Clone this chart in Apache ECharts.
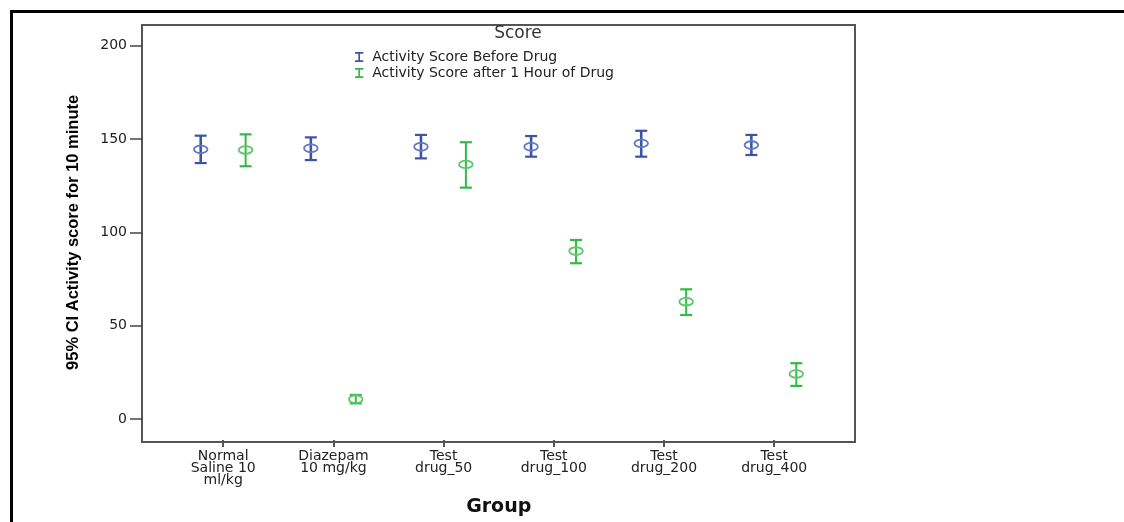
<!DOCTYPE html>
<html>
<head>
<meta charset="utf-8">
<script src="https://cdn.jsdelivr.net/npm/echarts@6/dist/echarts.min.js"></script>
<style>
html,body{margin:0;padding:0;background:#fff;}
#chart{width:1124px;height:522px;}
</style>
</head>
<body>
<div id="chart"></div>
<script>
// ---- data ----
const categories = ['Normal\nSaline 10\nml/kg', 'Diazepam\n10 mg/kg', 'Test\ndrug_50', 'Test\ndrug_100', 'Test\ndrug_200', 'Test\ndrug_400'];
const seriesNames = ['Activity Score Before Drug', 'Activity Score after 1 Hour of Drug'];
const beforeMean = [144.8, 145.4, 146.2, 146.2, 148.0, 147.1];
const beforeLow  = [137.5, 139.1, 140.0, 140.9, 140.9, 141.8];
const beforeHigh = [152.1, 151.2, 152.5, 151.9, 154.7, 152.5];
const afterMean  = [144.5, 11.6, 136.8, 90.6, 63.6, 25.1];
const afterLow   = [135.8, 9.4, 124.4, 84.1, 56.5, 18.7];
const afterHigh  = [152.8, 13.9, 148.6, 96.5, 70.2, 30.8];
const yTicks = { min: 0, max: 200, interval: 50 };

// ---- chart ----
const FONT = 'DejaVu Sans';
const chart = echarts.init(document.getElementById('chart'), null, { renderer: 'canvas' });

const PAIR_OFFSET = 0.204;

function buildData(low, high, mean, off) {
  return categories.map((c, i) => [i + off, low[i], high[i], mean[i]]);
}

function makeRender(color, ringColor, stemW, capW) {
  return function (params, api) {
    const x = api.value(0);
    const pL = api.coord([x, api.value(1)]);
    const pH = api.coord([x, api.value(2)]);
    const pM = api.coord([x, api.value(3)]);
    const cap = 6;
    return {
      type: 'group',
      children: [
        { type: 'line', shape: { x1: pL[0], y1: pL[1], x2: pH[0], y2: pH[1] }, style: { stroke: color, lineWidth: stemW } },
        { type: 'line', shape: { x1: pH[0] - cap, y1: pH[1], x2: pH[0] + cap, y2: pH[1] }, style: { stroke: color, lineWidth: capW } },
        { type: 'line', shape: { x1: pL[0] - cap, y1: pL[1], x2: pL[0] + cap, y2: pL[1] }, style: { stroke: color, lineWidth: capW } },
        { type: 'ellipse', shape: { cx: pM[0], cy: pM[1], rx: 6.8, ry: 3.8 }, style: { fill: 'none', stroke: ringColor, lineWidth: 1.8 } }
      ]
    };
  };
}

const BLUE = '#3B54AA';
const BLUE_RING = '#6478C4';
const GREEN = '#35B946';
const GREEN_RING = '#5CC66B';
const ICON = 'path://M0,0H10V2H6V10H10V12H0V10H4V2H0Z';

const option = {
  backgroundColor: '#ffffff',
  animation: false,
  graphic: [
    { type: 'polyline', shape: { points: [[11.5, 522], [11.5, 11.5], [1124, 11.5]] }, style: { stroke: '#000', lineWidth: 3, fill: null }, z: 10 },
    { type: 'text', x: 518, y: 34, style: { text: 'Score', font: '17px "DejaVu Sans"', fill: '#333', align: 'center', verticalAlign: 'middle' }, z: 10 }
  ],
  legend: {
    orient: 'vertical',
    left: 350,
    top: 45,
    itemWidth: 16,
    itemHeight: 10,
    itemGap: 2,
    data: [
      { name: seriesNames[0], icon: ICON },
      { name: seriesNames[1], icon: ICON }
    ],
    textStyle: { fontFamily: FONT, fontSize: 14, color: '#222' }
  },
  grid: [
    { left: 142, right: 269, top: 25, bottom: 80, show: true, borderColor: '#555', borderWidth: 2, backgroundColor: 'transparent' },
    { left: 168.1, right: 294.7, top: 45.8, bottom: 101, show: false }
  ],
  xAxis: [
    { gridIndex: 0, type: 'value', min: -0.737, max: 5.737, show: false },
    {
      gridIndex: 1, type: 'category', data: categories, boundaryGap: true, offset: 21, position: 'bottom',
      axisLine: { show: false, onZero: false },
      axisTick: { show: true, alignWithLabel: true, length: 7, lineStyle: { color: '#555', width: 2 } },
      axisLabel: { fontFamily: FONT, fontSize: 14, lineHeight: 12, color: '#222', margin: 10, interval: 0 },
      splitLine: { show: false },
      name: 'Group', nameLocation: 'middle', nameGap: 58,
      nameTextStyle: { fontFamily: FONT, fontWeight: 'bold', fontSize: 19, color: '#111' }
    }
  ],
  yAxis: [
    { gridIndex: 0, type: 'value', min: -11.2, max: 211.1, show: false },
    {
      gridIndex: 1, type: 'value', min: yTicks.min, max: yTicks.max, interval: yTicks.interval, offset: 26.1,
      axisLine: { show: false, onZero: false },
      axisTick: { show: true, length: 12, lineStyle: { color: '#444', width: 1.5 } },
      axisLabel: { fontFamily: FONT, fontSize: 14, color: '#222', margin: 15 },
      splitLine: { show: false },
      name: '95% CI Activity score for 10 minute', nameLocation: 'middle', nameRotate: 90, nameGap: 60,
      nameTextStyle: { fontFamily: '"Liberation Sans", Arial, sans-serif', fontWeight: 'bold', fontSize: 16.5, color: '#000' }
    }
  ],
  series: [
    {
      name: seriesNames[0], type: 'custom', xAxisIndex: 0, yAxisIndex: 0,
      color: BLUE, itemStyle: { color: BLUE },
      renderItem: makeRender(BLUE, BLUE_RING, 2.6, 2.2),
      encode: { x: 0, y: [1, 2, 3] },
      data: buildData(beforeLow, beforeHigh, beforeMean, -PAIR_OFFSET)
    },
    {
      name: seriesNames[1], type: 'custom', xAxisIndex: 0, yAxisIndex: 0,
      color: GREEN, itemStyle: { color: GREEN },
      renderItem: makeRender(GREEN, GREEN_RING, 2.0, 2.2),
      encode: { x: 0, y: [1, 2, 3] },
      data: buildData(afterLow, afterHigh, afterMean, PAIR_OFFSET)
    }
  ]
};
chart.setOption(option);
</script>
</body>
</html>
